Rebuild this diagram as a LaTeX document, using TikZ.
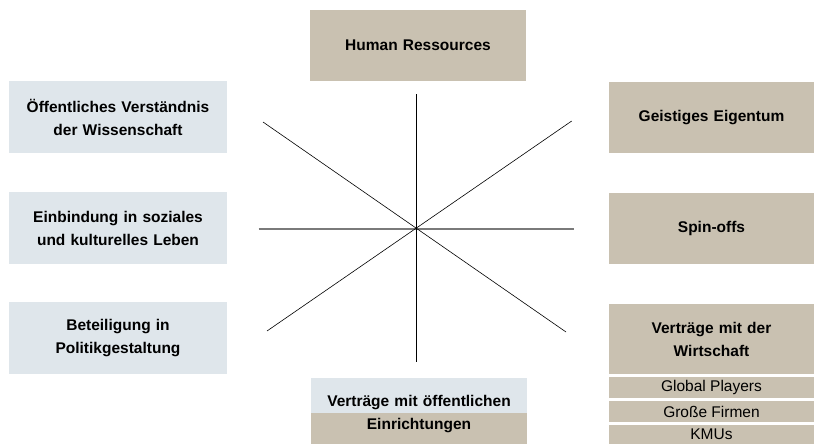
\documentclass[tikz,border=0pt]{standalone}
\usepackage{fontspec}
\setmainfont{Liberation Sans}
\usepackage{tikz}
\definecolor{sand}{HTML}{C9C1B1}
\definecolor{mist}{HTML}{DFE6EB}
\definecolor{spokegray}{HTML}{7A7A7A}
\tikzset{
BOX/.style ={fill=#1,draw=none,inner sep=0pt,align=center,text width=200pt,
	font=\fontsize{15.5}{23}\selectfont\bfseries},
BOX/.default = sand,
SUBBOX/.style ={fill=sand,draw=none,inner sep=0pt,align=center,minimum width=205pt,
	font=\fontsize{15.5}{23}\selectfont},
SPOKE/.style ={draw=black,line width=0.6pt,line cap=butt},
HSPOKE/.style ={draw=spokegray,line width=1.3pt,line cap=butt},
}
\begin{document}
\begin{tikzpicture}
[x=1pt,y=-1pt]
	\useasboundingbox (0,0) rectangle (814,444);
	%Left column
	\node[BOX=mist,minimum width=218pt,minimum height=72pt] (oev) at (118,117)
		{\"Offentliches Verst\"andnis\\der Wissenschaft};
	\node[BOX=mist,minimum width=218pt,minimum height=72pt] (ein) at (118,228)
		{Einbindung in soziales\\und kulturelles Leben};
	\node[BOX=mist,minimum width=218pt,minimum height=72pt] (bet) at (118,338)
		{Beteiligung in\\Politikgestaltung};
	%Top and bottom
	\node[BOX,minimum width=216pt,minimum height=71pt] (hr) at (418,45.5) {Human Ressources};
	\node[BOX=none,minimum width=216pt,minimum height=66pt,
		path picture={
			\fill[mist] (path picture bounding box.north west) rectangle ([yshift=-2pt]path picture bounding box.east);
			\fill[sand] ([yshift=-2pt]path picture bounding box.west) rectangle (path picture bounding box.south east);
		}] (oe) at (419,411) {\rule{0pt}{18pt}Vertr\"age mit \"offentlichen\\Einrichtungen};
	%Right column
	\node[BOX,minimum width=205pt,minimum height=71pt] (gei) at (711.5,117.5) {Geistiges Eigentum};
	\node[BOX,minimum width=205pt,minimum height=71pt] (spin) at (711.5,228.5) {Spin-offs};
	\node[BOX,minimum width=205pt,minimum height=70pt] (vw) at (711.5,339)
		{Vertr\"age mit der\\Wirtschaft};
	\node[SUBBOX,minimum height=21pt] (gp) at (711.5,387.7) {Global Players};
	\node[SUBBOX,minimum height=21pt] (gf) at (711.5,411.5) {Gro\ss e Firmen};
	\node[SUBBOX,minimum height=19.5pt] (kmu) at (711.5,434.7) {KMUs};
	%Star
	\coordinate (c) at (416.7,229);
	\coordinate (n) at (416.7,94);
	\coordinate (s) at (416.7,362);
	\coordinate (w) at (258.7,229);
	\coordinate (e) at (574,229);
	\coordinate (ne) at (571.7,121);
	\coordinate (nw) at (263,122);
	\coordinate (sw) at (267,331);
	\coordinate (se) at (566,332);
	\path[HSPOKE] (w) -- (e);
	\path[SPOKE] (n) -- (s);
	\path[SPOKE] (nw) -- (se);
	\path[SPOKE] (sw) -- (ne);
\end{tikzpicture}
\end{document}
